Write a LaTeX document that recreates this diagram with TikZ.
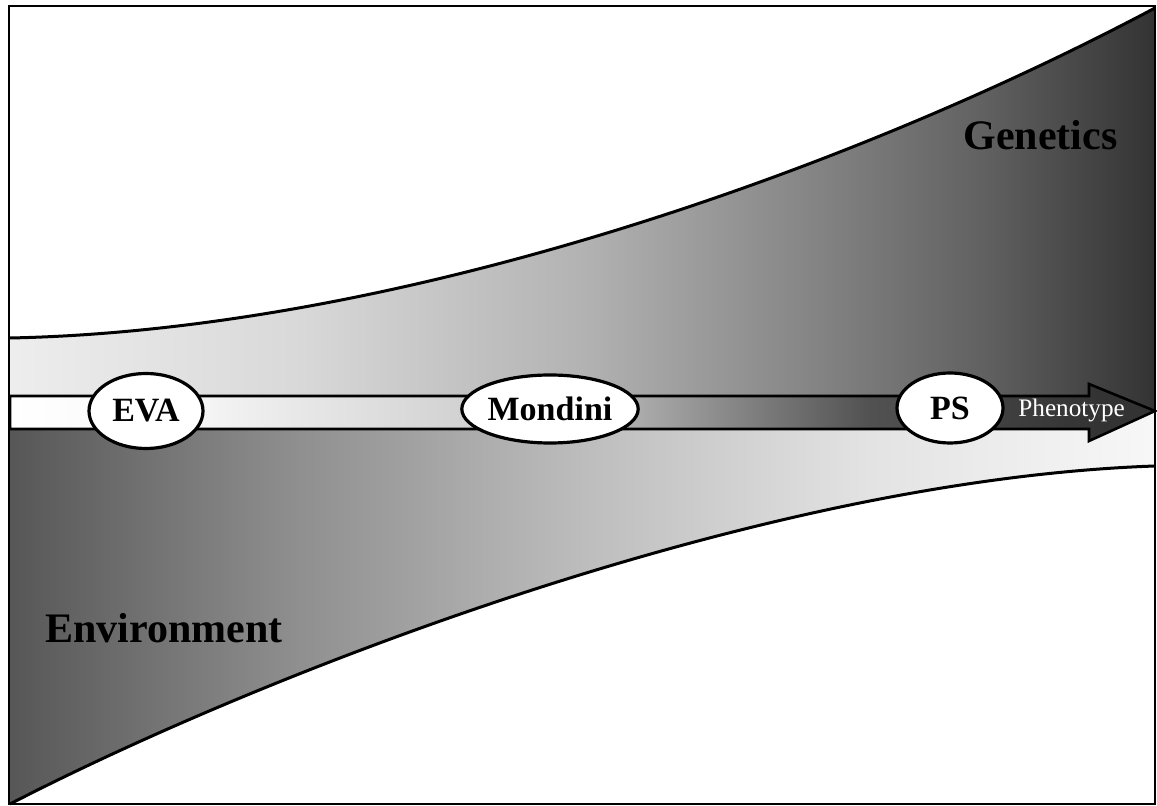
\documentclass[tikz,border=0pt]{standalone}
\usepackage{fontspec}
\setmainfont{Liberation Serif}
\usetikzlibrary{shapes.geometric}

% grey ramps for the two bands and the arrow
\pgfdeclarehorizontalshading{genshade}{100bp}{%
  color(0bp)=(black!7); color(25bp)=(black!7); color(37.5bp)=(black!15);
  color(50bp)=(black!30); color(60bp)=(black!48); color(67.5bp)=(black!62);
  color(75bp)=(black!80); color(100bp)=(black!80)}
\pgfdeclarehorizontalshading{envshade}{100bp}{%
  color(0bp)=(black!66); color(25bp)=(black!66); color(37.5bp)=(black!44);
  color(50bp)=(black!26); color(62.5bp)=(black!11); color(75bp)=(black!3);
  color(100bp)=(black!3)}
\pgfdeclarehorizontalshading{arrowshade}{100bp}{%
  color(0bp)=(white); color(25bp)=(white); color(32.5bp)=(black!3);
  color(45bp)=(black!18); color(52.5bp)=(black!33); color(62.5bp)=(black!68);
  color(72.5bp)=(black!80); color(100bp)=(black!82)}

\tikzset{
  edge/.style={line width=1.5pt, line join=round},
  label/.style={ellipse, draw, line width=1.6pt, fill=white, inner sep=0pt,
    font=\fontsize{17}{20}\selectfont\bfseries},
  bandtitle/.style={anchor=base west, inner sep=0pt,
    font=\fontsize{21}{25}\selectfont\bfseries},
}

\begin{document}
\begin{tikzpicture}[x=0.5pt, y=-0.5pt]
  \useasboundingbox (0,0) rectangle (1157,806);
  \fill[white] (0,0) rectangle (1157,806);

  % Genetics band (widening to the right)
  \shade[shading=genshade] (10,338) .. controls (400,330) and (850,170) .. (1155,8)
    -- (1155,412) -- (10,412) -- cycle;
  % Environment band (widening to the left)
  \shade[shading=envshade] (10,412) -- (1155,412) -- (1155,466)
    .. controls (750,480) and (250,680) .. (10,804) -- cycle;

  % band edges
  \draw[edge] (10,338) .. controls (400,330) and (850,170) .. (1155,8);
  \draw[edge] (1155,466) .. controls (750,480) and (250,680) .. (10,804);

  % phenotype arrow
  \shade[shading=arrowshade, draw=black, line width=1.3pt, line join=miter]
    (10,396) -- (1089,396) -- (1089,384) -- (1155,411) -- (1089,441)
    -- (1089,429) -- (10,429) -- cycle;
  \node[anchor=base west, inner sep=0pt, text=white,
    font=\fontsize{12.6}{15}\selectfont] (pheno) at (1018,417) {Phenotype};

  % stages along the arrow
  \node[label, minimum width=57pt, minimum height=37.5pt] (eva) at (146,411) {EVA};
  \node[label, minimum width=78pt, minimum height=34pt] (mondini) at (550,409) {Mondini};
  \node[label, minimum width=53pt, minimum height=35pt] (ps) at (950,408) {PS};

  % band titles
  \node[bandtitle] (genetics) at (963,150) {Genetics};
  \node[bandtitle] (environment) at (45,643) {Environment};

  % frame
  \draw[line width=1.1pt] (9,6) rectangle (1155,804);
\end{tikzpicture}
\end{document}
